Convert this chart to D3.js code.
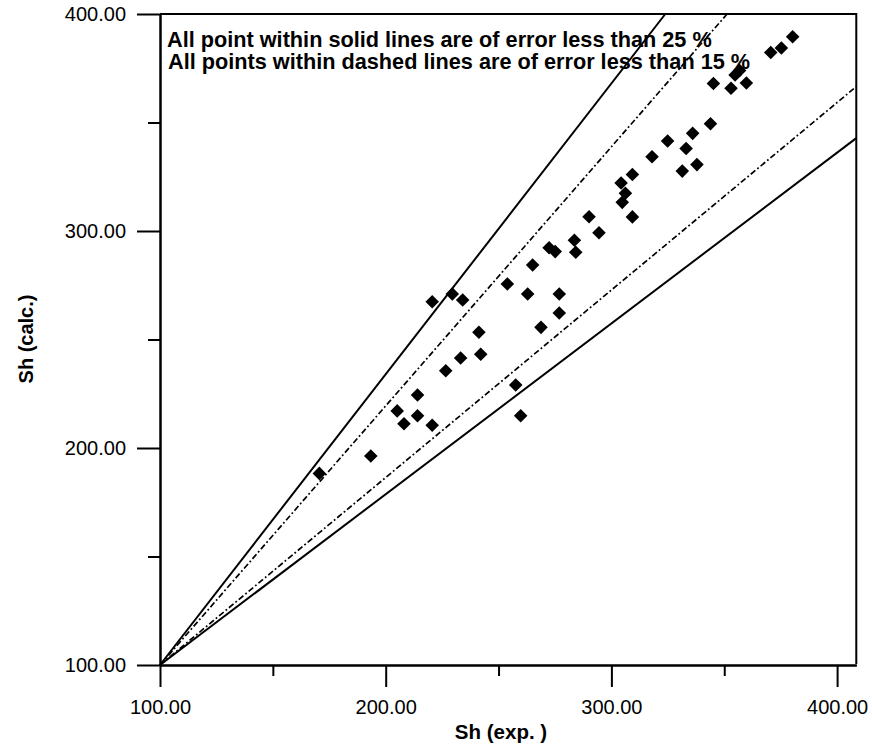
<!DOCTYPE html>
<html>
<head>
<meta charset="utf-8">
<script src="https://cdn.jsdelivr.net/npm/d3@7"></script>
<style>
  html, body { margin: 0; padding: 0; background: #fff; }
  svg { display: block; }
  text { font-family: "Liberation Sans", Arial, sans-serif; fill: #000; }
</style>
</head>
<body>
<svg id="chart" width="872" height="748"></svg>
<script>
// Experimental vs calculated Sh values
const shExp = [
  170.6, 193.4, 205.1, 208.1, 214.1, 214.1, 220.6, 220.6, 226.6, 229.5,
  233.2, 234.1, 241.3, 242.1, 253.9, 257.6, 259.8, 262.9, 265.1, 268.8,
  272.4, 275.1, 276.9, 276.9, 283.6, 284.2, 290.1, 294.5, 304.3, 309.3,
  306.2, 304.8, 309.3, 318.0, 324.9, 331.4, 333.1, 337.9, 336.0, 343.9,
  345.2, 353.0, 354.8, 356.8, 359.8, 370.6, 375.3, 380.3
];
const shCalc = [
  188.3, 196.3, 217.1, 211.2, 224.4, 214.9, 210.5, 267.4, 235.6, 271.0,
  241.5, 268.2, 253.3, 243.2, 275.6, 229.0, 214.9, 271.0, 284.3, 255.6,
  292.3, 290.5, 271.0, 262.2, 295.7, 290.2, 306.6, 299.2, 322.1, 326.0,
  317.4, 313.2, 306.5, 334.2, 341.5, 327.6, 338.0, 330.6, 345.0, 349.4,
  368.0, 365.8, 371.9, 374.0, 368.2, 382.3, 384.3, 389.5
];

// Error band lines through (100, 100): slopes of the bounding lines
const solidSlopes = [1.34, 0.787];
const dashedSlopes = [1.194, 0.864];

const majorTicks = [100, 200, 300, 400];
const minorTicks = [150, 250, 350];

const notes = [
  "All point within solid lines are of error less than 25 %",
  "All points within dashed lines are of error less than 15 %"
];

const xMin = 100, xMax = 408.5, yMin = 100, yMax = 400;

const svg = d3.select("#chart");

const x = d3.scaleLinear().domain([xMin, xMax]).range([160, 160 + (xMax - xMin) * 2.257]);
const y = d3.scaleLinear().domain([yMin, yMax]).range([665, 14]);

const fmt = d3.format(".2f");

// Notes in the upper left of the plot
svg.append("g")
  .selectAll("text")
  .data(notes)
  .join("text")
  .attr("x", (d, i) => i === 0 ? 167 : 168)
  .attr("y", (d, i) => i === 0 ? 46.5 : 69)
  .style("font-size", "21.7px")
  .style("font-weight", "bold")
  .text(d => d);

// Segment of a line of given slope from (100,100) to the plot edge
function bandSegment(k) {
  const xe = Math.min(xMax, xMin + (yMax - yMin) / k);
  return [[xMin, yMin], [xe, yMin + k * (xe - xMin)]];
}
const line = d3.line().x(d => x(d[0])).y(d => y(d[1]));

svg.append("g")
  .selectAll("path")
  .data(dashedSlopes)
  .join("path")
  .attr("d", k => line(bandSegment(k)))
  .attr("fill", "none")
  .attr("stroke", "#000")
  .attr("stroke-width", 1.7)
  .attr("stroke-dasharray", "6,2.5,1.8,2.5");

svg.append("g")
  .selectAll("path")
  .data(solidSlopes)
  .join("path")
  .attr("d", k => line(bandSegment(k)))
  .attr("fill", "none")
  .attr("stroke", "#000")
  .attr("stroke-width", 2);

// Axes
const axisStyle = g => {
  g.selectAll("path, line").attr("stroke", "#000").attr("stroke-width", 2);
  g.selectAll("text").style("font-size", "20px").attr("font-family", null);
};

svg.append("g")
  .attr("transform", `translate(0,${y(yMin)})`)
  .call(d3.axisBottom(x).tickValues(minorTicks).tickSize(11).tickFormat("").tickSizeOuter(0))
  .call(axisStyle);
svg.append("g")
  .attr("transform", `translate(0,${y(yMin)})`)
  .call(d3.axisBottom(x).tickValues(majorTicks).tickSize(22).tickPadding(13).tickFormat(fmt).tickSizeOuter(0))
  .call(axisStyle);

svg.append("g")
  .attr("transform", `translate(${x(xMin)},0)`)
  .call(d3.axisLeft(y).tickValues(minorTicks).tickSize(12).tickFormat("").tickSizeOuter(0))
  .call(axisStyle);
svg.append("g")
  .attr("transform", `translate(${x(xMin)},0)`)
  .call(d3.axisLeft(y).tickValues(majorTicks).tickSize(23).tickPadding(11).tickFormat(fmt).tickSizeOuter(0))
  .call(axisStyle);

// Top and right frame
svg.append("path")
  .attr("d", `M${x(xMin)},${y(yMax)}H${x(xMax)}V${y(yMin) - 1}`)
  .attr("fill", "none")
  .attr("stroke", "#000")
  .attr("stroke-width", 2);

// Axis titles
svg.append("text")
  .attr("x", 501)
  .attr("y", 739)
  .attr("text-anchor", "middle")
  .style("font-size", "20.5px")
  .style("font-weight", "bold")
  .text("Sh (exp. )");

svg.append("text")
  .attr("transform", "translate(33,339) rotate(-90)")
  .attr("text-anchor", "middle")
  .style("font-size", "20px")
  .style("font-weight", "bold")
  .text("Sh (calc.)");

// Data points as diamonds
const diamond = d3.symbol(d3.symbolSquare, 92);
svg.append("g")
  .selectAll("path")
  .data(shExp.map((v, i) => [v, shCalc[i]]))
  .join("path")
  .attr("d", diamond)
  .attr("transform", d => `translate(${x(d[0])},${y(d[1])}) rotate(45)`)
  .attr("fill", "#000");
</script>
</body>
</html>
